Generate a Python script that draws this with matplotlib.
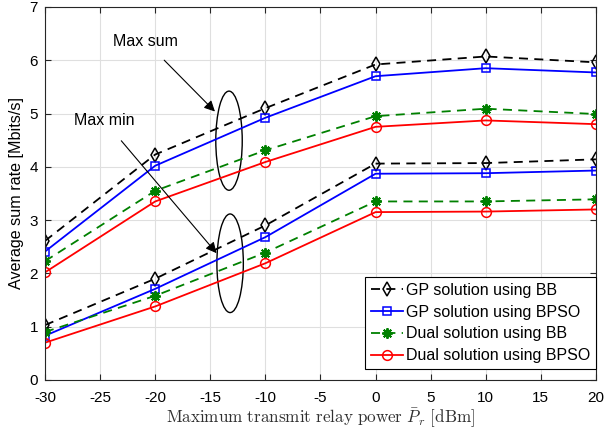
import numpy as np
import matplotlib.pyplot as plt
from matplotlib.patches import Ellipse

plt.rcParams['font.family'] = ['Liberation Sans', 'DejaVu Sans']
plt.rcParams['mathtext.fontset'] = 'cm'
plt.rcParams['axes.unicode_minus'] = False

x = [-30, -20, -10, 0, 10, 20]

# upper group (max sum)
gp_bb_sum = [2.61, 4.23, 5.10, 5.92, 6.07, 5.96]
gp_bpso_sum = [2.41, 4.02, 4.92, 5.70, 5.85, 5.77]
dual_bb_sum = [2.23, 3.55, 4.31, 4.95, 5.09, 4.99]
dual_bpso_sum = [2.02, 3.35, 4.09, 4.75, 4.87, 4.80]

# lower group (max min)
gp_bb_min = [1.03, 1.90, 2.90, 4.06, 4.07, 4.14]
gp_bpso_min = [0.83, 1.71, 2.68, 3.87, 3.88, 3.93]
dual_bb_min = [0.90, 1.58, 2.39, 3.35, 3.35, 3.39]
dual_bpso_min = [0.70, 1.38, 2.19, 3.15, 3.16, 3.20]

labels = ['GP solution using BB', 'GP solution using BPSO',
          'Dual solution using BB', 'Dual solution using BPSO']

fig = plt.figure(figsize=(6.05, 4.32), dpi=100)
ax = fig.add_axes([0.0744, 0.1204, 0.9106, 0.8636])

styles = [
    dict(color='k', ls=(0, (5, 3.5)), marker='d', ms=7.5, mfc='none', mew=1.1),
    dict(color='#0000ff', ls='-', marker='s', ms=5.5, mfc='none', mew=1.1),
    dict(color='#008000', ls=(0, (5, 3.5)), marker=(8, 2, 0), ms=7.5, mew=1.4),
    dict(color='#ff0000', ls='-', marker='o', ms=7, mfc='none', mew=1.1),
]

for ys, st, lab in zip([gp_bb_sum, gp_bpso_sum, dual_bb_sum, dual_bpso_sum], styles, labels):
    ax.plot(x, ys, lw=1.3, label=lab, **st)
for ys, st in zip([gp_bb_min, gp_bpso_min, dual_bb_min, dual_bpso_min], styles):
    ax.plot(x, ys, lw=1.3, **st)

# ellipses and annotations
ax.add_patch(Ellipse((-13.3, 4.49), 2.4, 1.86, fill=False, ec='k', lw=1.0))
ax.add_patch(Ellipse((-13.2, 2.19), 2.4, 1.85, fill=False, ec='k', lw=1.0))
ax.annotate('Max sum', xy=(-14.4, 5.0), xytext=(-20.9, 6.36), ha='center', va='center',
            fontsize=11.5, arrowprops=dict(arrowstyle='-|>', color='k', lw=0.8,
                                           mutation_scale=16, shrinkA=9))
ax.annotate('Max min', xy=(-14.27, 2.34), xytext=(-24.6, 4.86), ha='center', va='center',
            fontsize=11.5, arrowprops=dict(arrowstyle='-|>', color='k', lw=0.8,
                                           mutation_scale=16, shrinkA=9))

ax.set_xlim(-30, 20)
ax.set_ylim(0, 7)
ax.set_xticks(np.arange(-30, 21, 5))
ax.set_yticks(np.arange(0, 8, 1))
ax.grid(True, color='#dfdfdf', lw=0.8)
ax.set_axisbelow(True)
ax.tick_params(direction='in', top=True, right=True, labelsize=11, colors='#262626',
               length=4, labelcolor='k')
ax.tick_params(axis='x', pad=8)
ax.tick_params(axis='y', pad=5)
for s in ax.spines.values():
    s.set_color('#262626')
    s.set_linewidth(0.8)

ax.set_ylabel('Average sum rate [Mbits/s]', fontsize=11.6, labelpad=4)
ax.set_xlabel(r'$\mathrm{Maximum\ transmit\ relay\ power}\ \bar{P}_r\ \mathrm{[dBm]}$',
              fontsize=12.3, color='#303030', labelpad=1)

leg = ax.legend(loc='lower right', bbox_to_anchor=(1.0, 0.03), borderaxespad=0,
                fontsize=11.5, handlelength=2.0, handletextpad=0.2, labelspacing=0.42,
                fancybox=False, framealpha=1, edgecolor='k', borderpad=0.35)
leg.get_frame().set_linewidth(0.8)

fig.savefig('out.png', dpi=100)
